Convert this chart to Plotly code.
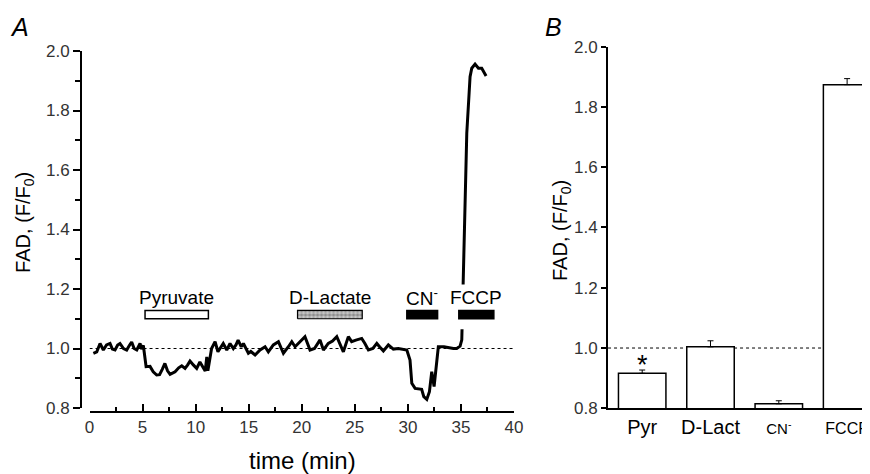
import plotly.graph_objects as go

# panel A: FAD autofluorescence trace
time_min = [0.36, 0.68, 0.99, 1.30, 1.6, 1.93, 2.15, 2.40, 2.65, 2.87, 3.2, 3.5, 3.75, 3.97,
            4.2, 4.45, 4.76, 4.9, 5.07, 5.2, 5.33, 5.7, 6.0, 6.33, 6.6, 6.85, 7.1, 7.35, 7.59,
            8.06, 8.4, 8.69, 9.0, 9.25, 9.47, 9.78, 9.94, 10.1, 10.4, 10.7, 10.9, 11.05, 11.15,
            11.5, 11.83, 12.1, 12.35, 12.6, 12.93, 13.24, 13.55, 13.8, 14.0, 14.3, 14.5, 14.75,
            14.97, 15.2, 15.6, 16.07, 16.54, 16.85, 17.32, 17.8, 18.27, 18.74, 19.06, 19.37,
            19.84, 20.3, 20.78, 21.2, 21.72, 22.04, 22.5, 22.9, 23.3, 23.6, 23.92, 24.39, 24.7,
            25.1, 25.65, 25.95, 26.28, 26.7, 27.07, 27.35, 27.69, 28.16, 28.63, 29.1, 29.7,
            29.9, 30.2, 30.37, 30.68, 31.3, 31.5, 31.78, 32.03, 32.25, 32.47, 32.87, 33.4,
            33.9, 34.29, 34.6, 34.92, 35.08, 35.1, 35.17, 35.32, 35.55, 35.77, 35.86, 36.02,
            36.33, 36.65, 36.96, 37.37]
fad_ratio = [0.984, 0.989, 1.017, 0.995, 1.012, 1.017, 0.998, 0.995, 1.012, 1.017, 1.0, 0.995,
             1.01, 1.022, 1.0, 0.995, 1.017, 0.998, 1.01, 0.975, 0.939, 0.94, 0.922, 0.911,
             0.912, 0.93, 0.95, 0.925, 0.913, 0.922, 0.935, 0.942, 0.933, 0.945, 0.958, 0.945,
             0.939, 0.933, 0.955, 0.933, 0.924, 0.972, 0.925, 1.0, 1.023, 0.989, 1.005, 1.017,
             0.995, 1.017, 1.0, 1.012, 1.028, 1.006, 1.017, 1.0, 0.984, 0.99, 0.978, 0.995,
             1.006, 0.989, 1.012, 1.023, 0.984, 1.006, 1.023, 1.006, 1.023, 1.04, 0.995, 1.0,
             1.029, 0.995, 1.017, 1.025, 1.04, 1.017, 0.989, 1.04, 1.023, 1.028, 1.034, 1.017,
             0.995, 1.0, 1.017, 1.005, 0.992, 1.012, 0.998, 1.0, 0.998, 0.995, 0.961, 0.883,
             0.866, 0.863, 0.838, 0.829, 0.855, 0.922, 0.872, 1.006, 1.006, 1.002, 1.0, 1.0,
             1.008, 1.029, 1.057, 1.225, 1.365, 1.723, 1.858, 1.914, 1.942, 1.956, 1.942,
             1.942, 1.916]

# drug application periods (min)
drug_names = ["Pyruvate", "D-Lactate", "CN<sup>-</sup>", "FCCP"]
drug_start = [5.23, 19.6, 29.9, 34.8]
drug_end = [11.2, 25.7, 32.8, 38.1]
drug_style = ["open", "dotted", "solid", "solid"]

# panel B: mean responses
bar_labels = ["Pyr", "D-Lact", "CN<sup>-</sup>", "FCCP"]
bar_label_size = [20, 20, 15, 16]
bar_means = [0.916, 1.004, 0.815, 1.874]
bar_sem = [0.011, 0.02, 0.01, 0.02]

FONT = "Arial, Liberation Sans, sans-serif"
BAR_LO, BAR_HI, LABEL_Y = 1.100, 1.128, 1.173

fig = go.Figure()

fig.add_trace(go.Scatter(x=time_min, y=fad_ratio, mode="lines",
                         line=dict(color="black", width=3),
                         xaxis="x", yaxis="y", showlegend=False))

shapes = [
    dict(type="line", xref="x", yref="y", x0=0, x1=40, y0=1.0, y1=1.0,
         line=dict(color="black", width=1, dash="dot"), layer="below"),
    dict(type="line", xref="x2 domain", yref="y2", x0=0, x1=1, y0=1.0, y1=1.0,
         line=dict(color="black", width=1, dash="dot"), layer="below"),
    # white backing behind the FCCP label (trace is hidden there)
    dict(type="rect", xref="x", yref="y", x0=34.6, x1=38.6, y0=1.065, y1=1.215,
         line=dict(width=0), fillcolor="white"),
]
annotations = []
for name, s, e, st in zip(drug_names, drug_start, drug_end, drug_style):
    if st == "dotted":
        fig.add_trace(go.Scatter(x=[s, e, e, s, s], y=[BAR_LO, BAR_LO, BAR_HI, BAR_HI, BAR_LO],
                                 mode="lines", fill="toself",
                                 fillcolor="#999",
                                 fillpattern=dict(shape=".", fgcolor="white", bgcolor="#888",
                                                  size=4, solidity=0.6),
                                 line=dict(color="black", width=1.2),
                                 xaxis="x", yaxis="y", showlegend=False, hoverinfo="skip"))
    else:
        shapes.append(dict(type="rect", xref="x", yref="y", x0=s, x1=e, y0=BAR_LO, y1=BAR_HI,
                           line=dict(color="black", width=1.5),
                           fillcolor="black" if st == "solid" else "white"))
    annotations.append(dict(x=(s + e) / 2, y=LABEL_Y, xref="x", yref="y", text=name,
                            showarrow=False, font=dict(size=19, color="black", family=FONT)))

fig.add_trace(go.Bar(x=list(range(len(bar_labels))), y=bar_means, width=0.695,
                     marker=dict(color="white", line=dict(color="black", width=1.5)),
                     error_y=dict(type="data", array=bar_sem,
                                  arrayminus=[0] * len(bar_sem), symmetric=False,
                                  color="black", thickness=1, width=3),
                     xaxis="x2", yaxis="y2", showlegend=False))


def paper_text(x, y, text, size, angle=0):
    return dict(x=x, y=y, xref="paper", yref="paper", text=text, textangle=angle,
                xanchor="center", yanchor="middle", showarrow=False,
                font=dict(size=size, color="black", family=FONT))


annotations += [
    dict(x=0, y=0.945, xref="x2", yref="y2", text="*", showarrow=False,
         font=dict(size=27, color="black", family=FONT)),
    paper_text(0.0128, 0.959, "<i>A</i>", 25),
    paper_text(0.6334, 0.959, "<i>B</i>", 25),
    paper_text(0.0197, 0.541, "FAD, (F/F<sub>0</sub>)", 20, -90),
    paper_text(0.6427, 0.5215, "FAD, (F/F<sub>0</sub>)", 20, -90),
    paper_text(0.3411, 0.028, "time (min)", 24),
]

tick_font = dict(size=17, color="#333", family=FONT)
# page draws the figure 8px in from the top-left corner, so the figure is 862x466
fig.update_layout(
    width=862, height=466,
    margin=dict(l=0, r=0, t=0, b=0, autoexpand=False),
    paper_bgcolor="white", plot_bgcolor="white", showlegend=False,
    shapes=shapes, annotations=annotations,
    xaxis=dict(domain=[0.0946, 0.5870], range=[0, 40], anchor="free", position=0.1341,
               showline=True, linecolor="black", linewidth=2, showgrid=False, zeroline=False,
               ticks="inside", ticklen=7, tickwidth=2, tickcolor="black", dtick=5,
               minor=dict(ticks="inside", ticklen=4, tickwidth=2, dtick=2.5, tickcolor="black"),
               tickfont=tick_font),
    yaxis=dict(domain=[0.1416, 0.9077], range=[0.8, 2.0], anchor="free", position=0.0847,
               showline=True, linecolor="black", linewidth=2, showgrid=False, zeroline=False,
               ticks="outside", ticklen=7, tickwidth=2, tickcolor="black", dtick=0.2,
               tickformat=".1f",
               minor=dict(ticks="outside", ticklen=5, tickwidth=2, dtick=0.1, tickcolor="black"),
               tickfont=tick_font),
    xaxis2=dict(domain=[0.6961, 1.0], range=[-0.5, 3.335], anchor="y2",
                showline=True, linecolor="black", linewidth=2, showgrid=False, zeroline=False,
                ticks="", tickvals=list(range(len(bar_labels))),
                ticktext=[f"<span style='font-size:{s}px'>{t}</span>"
                          for t, s in zip(bar_labels, bar_label_size)],
                tickfont=dict(size=20, color="black", family=FONT)),
    yaxis2=dict(domain=[0.1410, 0.9170], range=[0.8, 2.0], anchor="x2",
                showline=True, linecolor="black", linewidth=2, showgrid=False, zeroline=False,
                ticks="outside", ticklen=5, tickwidth=2, tickcolor="black", dtick=0.2,
                tickformat=".1f", tickfont=tick_font),
)

fig.write_html("out.html")
